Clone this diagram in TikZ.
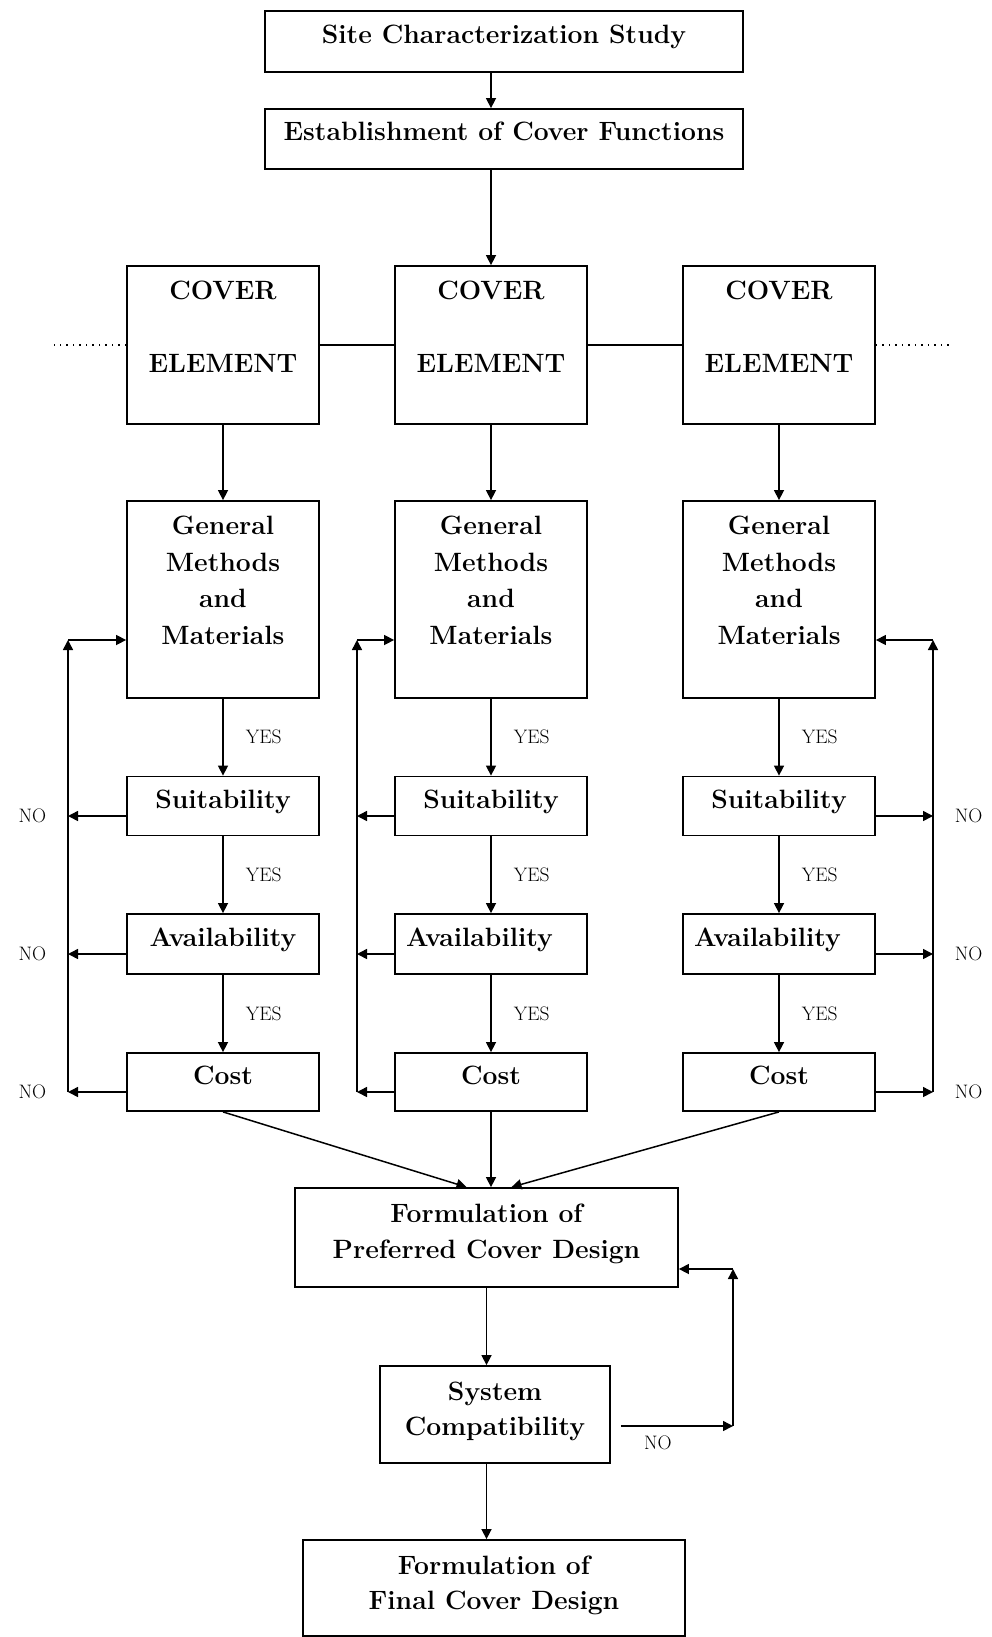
\documentclass[tikz,border=0pt]{standalone}
\usepackage{fontspec}
\usetikzlibrary{arrows.meta,positioning}

\newcommand{\boxfont}{\fontsize{26.5}{35}\selectfont\bfseries}
\newcommand{\labfont}{\fontsize{19.5}{23}\selectfont}
% text set high in a tall box
\newcommand{\toptext}[2]{\raisebox{#1}[0pt][0pt]{\begin{tabular}[b]{@{}c@{}}#2\end{tabular}}}

\tikzset{
  box/.style={draw, line width=1.8pt, inner sep=0pt, font=\boxfont},
  oneline/.style={text height=18pt, text depth=14pt},
  arr/.style={line width=1.5pt, -{Triangle[length=10pt,width=10pt]}},
  lab/.style={inner sep=0pt, font=\labfont}
}

\begin{document}
\begin{tikzpicture}[x=1pt, y=-1pt]
  \useasboundingbox (0,0) rectangle (992,1637);

  % 1. Site and functions
  \node[box, oneline, minimum width=478pt, minimum height=61pt] (site) at (504,41.5) {Site Characterization Study};
  \node[box, oneline, minimum width=478pt, minimum height=60pt] (estab) at (504,139) {Establishment of Cover Functions};

  % 2. The three cover element columns
  \foreach \c/\x/\fx/\side/\ash/\lab/\lp in {L/223/68/west/0/NO/left, M/491/357/west/23/{}/left, R/779/933/east/23/NO/right} {
    \node[box, minimum width=192pt, minimum height=158pt] (cover\c) at (\x,345) {\toptext{-27.5pt}{COVER\\[38pt]ELEMENT}};
    \node[box, minimum width=192pt, minimum height=197pt] (gm\c) at (\x,599.5) {\toptext{-44.5pt}{General\\[1.5pt]Methods\\[1.5pt]and\\[1.5pt]Materials}};
    \node[box, oneline, minimum width=192pt, minimum height=59pt] (suit\c) at (\x,806) {Suitability};
    \node[box, oneline, minimum width=192pt, minimum height=60pt] (avail\c) at (\x,944) {Availability\hspace*{\ash pt}};
    \node[box, oneline, minimum width=192pt, minimum height=58pt] (cost\c) at (\x,1082) {Cost};
    \coordinate (fb\c) at (\fx,640);

    \draw[arr] (cover\c.south) -- (gm\c.north);
    \draw[arr] (gm\c) -- (suit\c) node[lab, midway, right=22pt] {YES};
    \draw[arr] (suit\c) -- (avail\c) node[lab, midway, right=22pt] {YES};
    \draw[arr] (avail\c) -- (cost\c) node[lab, midway, right=22pt] {YES};

    % NO branches and the way back
    \draw[arr] ([yshift=-10pt]suit\c.\side) -- ([yshift=-10pt]suit\c.\side -| fb\c) node[lab, \lp=21pt] {\lab};
    \draw[arr] ([yshift=-10pt]avail\c.\side) -- ([yshift=-10pt]avail\c.\side -| fb\c) node[lab, \lp=21pt] {\lab};
    \draw[arr] ([yshift=-10pt]cost\c.\side) -- ([yshift=-10pt]cost\c.\side -| fb\c) node[lab, \lp=21pt] {\lab};
    \draw[arr] ([yshift=-10pt]cost\c.\side -| fb\c) -- (fb\c);
    \draw[arr] (fb\c) -- (fb\c -| gm\c.\side);
  }

  \draw[arr] (site.south -| coverM.north) -- (estab.north -| coverM.north);
  \draw[arr] (estab.south -| coverM.north) -- (coverM.north);

  % links between the elements
  \draw[line width=1.5pt] (coverL.east) -- (coverM.west);
  \draw[line width=1.5pt] (coverM.east) -- (coverR.west);
  \draw[line width=1.3pt, dash pattern=on 1.5pt off 5pt] (coverL.west) -- ++(-72,0);
  \draw[line width=1.3pt, dash pattern=on 1.5pt off 5pt] (coverR.east) -- ++(73,0);

  % 3. Preferred, system and final design
  \node[box, minimum width=383pt, minimum height=99pt] (pref) at (486.5,1237.5) {\toptext{-21pt}{Formulation of\\[1pt]Preferred Cover Design}};
  \node[box, minimum width=230pt, minimum height=97pt] (sys) at (495,1414.5) {\toptext{-21pt}{System\\Compatibility}};
  \node[box, minimum width=382pt, minimum height=96pt] (final) at (494,1588) {\toptext{-21.5pt}{Formulation of\\Final Cover Design}};

  \draw[arr] (costL.south) -- ([xshift=-20pt]pref.north);
  \draw[arr] (costM.south) -- (costM.south |- pref.north);
  \draw[arr] (costR.south) -- ([xshift=25pt]pref.north);

  \draw[arr] (pref.south) -- (pref.south |- sys.north);
  \draw[arr] (sys.south -| pref.south) -- (final.north -| pref.south);

  % compatibility check
  \coordinate (fbS) at (733,1426);
  \coordinate (fbT) at (733,1269);
  \draw[arr] ([xshift=10pt,yshift=-11.5pt]sys.east) -- (fbS) node[lab, pos=0.33, below=9pt] {NO};
  \draw[arr] (fbS) -- (fbT);
  \draw[arr] (fbT) -- (fbT -| pref.east);
\end{tikzpicture}
\end{document}
